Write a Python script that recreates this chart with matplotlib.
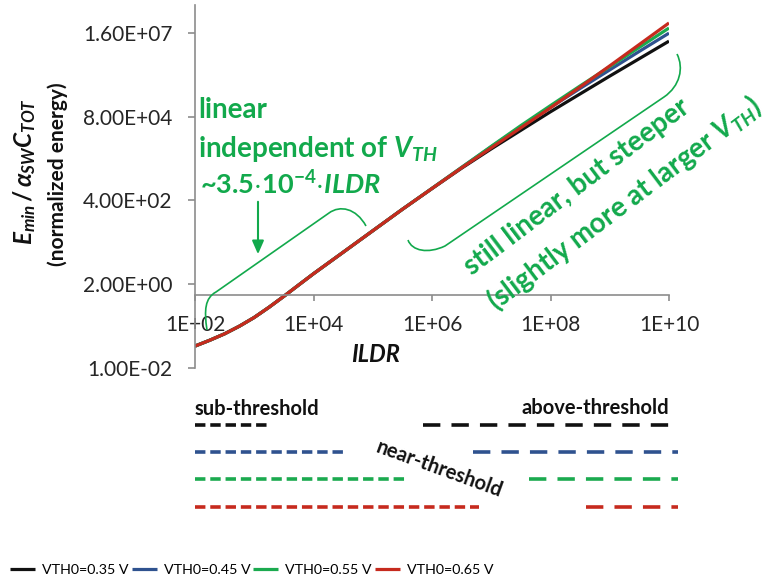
import matplotlib
matplotlib.use('Agg')
import matplotlib.pyplot as plt
from matplotlib.path import Path
from matplotlib.patches import PathPatch
import matplotlib.transforms as mtransforms
from matplotlib.ticker import FixedLocator, FixedFormatter, NullLocator

plt.rcParams['font.family'] = ['Lato', 'DejaVu Sans']
plt.rcParams['mathtext.fontset'] = 'custom'
plt.rcParams['mathtext.it'] = 'Lato:italic:bold'
plt.rcParams['mathtext.rm'] = 'Lato:bold'
plt.rcParams['mathtext.bf'] = 'Lato:bold'
plt.rcParams['mathtext.fallback'] = 'stixsans'
plt.rcParams['lines.scale_dashes'] = False

# ---------------- data ----------------
ildr = [1e2, 1.78e2, 3.16e2, 5.62e2, 1e3, 1.78e3, 3.16e3, 5.62e3, 1e4,
        3.16e4, 1e5, 3.16e5, 1e6, 3.16e6, 1e7, 3.16e7, 1e8, 3.16e8,
        1e9, 3.16e9, 1e10]
series_labels = ['VTH0=0.35 V', 'VTH0=0.45 V', 'VTH0=0.55 V', 'VTH0=0.65 V']
series_colors = ['#111111', '#2F528F', '#1BAA4F', '#C62A1E']
energy_035 = [0.040, 0.058, 0.087, 0.141, 0.245, 0.468, 0.933, 1.91, 3.89,
              15.1, 58.9, 229, 850,
              3.09e3, 1.047e4, 3.39e4, 1.096e5, 3.39e5, 1.047e6, 3.16e6, 9.55e6]
energy_045 = [0.040, 0.058, 0.087, 0.141, 0.245, 0.468, 0.933, 1.91, 3.89,
              15.1, 58.9, 229, 860,
              3.24e3, 1.20e4, 4.27e4, 1.445e5, 4.79e5, 1.55e6, 5.01e6, 1.585e7]
energy_055 = [0.040, 0.058, 0.087, 0.141, 0.245, 0.468, 0.933, 1.91, 3.89,
              15.1, 58.9, 229, 860,
              3.24e3, 1.23e4, 4.57e4, 1.62e5, 5.62e5, 1.905e6, 6.46e6, 2.19e7]
energy_065 = [0.040, 0.058, 0.087, 0.141, 0.245, 0.468, 0.933, 1.91, 3.89,
              15.1, 58.9, 229, 855,
              3.16e3, 1.12e4, 3.98e4, 1.41e5, 5.25e5, 2.0e6, 7.76e6, 3.02e7]
all_energy = [energy_035, energy_045, energy_055, energy_065]

y_ticks = [1e-2, 2.0, 4e2, 8e4, 1.6e7]
y_tick_labels = ['1.00E-02', '2.00E+00', '4.00E+02', '8.00E+04', '1.60E+07']
x_ticks = [1e2, 1e4, 1e6, 1e8, 1e10]
x_tick_labels = ['1E+02', '1E+04', '1E+06', '1E+08', '1E+10']

# regime extents (ILDR) per VTH0 for the schematic below the plot
sub_start = 1e2
sub_end = [1.9e3, 3.5e4, 4.0e5, 6.2e6]
above_start = [7.1e5, 4.9e6, 4.4e7, 4.0e8]
above_end = 1.4e10

# ---------------- figure ----------------
W, H = 777, 585
fig = plt.figure(figsize=(W / 100, H / 100), dpi=100)
ax = fig.add_axes([195 / W, 1 - 368 / H, (669 - 195) / W, (368 - 5) / H])
ax.set_xscale('log')
ax.set_yscale('log')
ax.set_xlim(1e2, 1e10)
ax.set_ylim(1e-2, 10 ** 7.973)

lines = []
for e, c, lab in zip(all_energy, series_colors, series_labels):
    ln, = ax.plot(ildr, e, color=c, lw=2.3, label=lab, solid_capstyle='butt')
    lines.append(ln)

spine_col = '#8C8C8C'
for s in ['top', 'right']:
    ax.spines[s].set_visible(False)
for s in ['left', 'bottom']:
    ax.spines[s].set_color(spine_col)
    ax.spines[s].set_linewidth(1.2)
ax.spines['bottom'].set_position(('data', 1.0))

ax.yaxis.set_major_locator(FixedLocator(y_ticks))
ax.yaxis.set_major_formatter(FixedFormatter(y_tick_labels))
ax.yaxis.set_minor_locator(NullLocator())
ax.xaxis.set_major_locator(FixedLocator(x_ticks))
ax.xaxis.set_major_formatter(FixedFormatter(x_tick_labels))
ax.xaxis.set_minor_locator(NullLocator())
ax.tick_params(axis='y', direction='out', length=5, width=1.2, color=spine_col,
               labelsize=15, labelcolor='#262626', pad=11)
ax.tick_params(axis='x', direction='out', length=4, width=1.2, color=spine_col,
               labelsize=15, labelcolor='#262626', pad=10)

# ---------------- overlay (pixel coordinates) ----------------
ov = fig.add_axes([0, 0, 1, 1], facecolor='none')
ov.set_xlim(0, W)
ov.set_ylim(H, 0)
ov.axis('off')

green = '#12A94C'

ov.text(376, 355, 'ILDR', fontsize=17, fontweight='bold', fontstyle='italic',
        ha='center', va='center', color='#111111')
ov.text(25, 171, r'$E_{min}\,/\,\alpha_{SW}C_{TOT}$', fontsize=17.5, rotation=90,
        ha='center', va='center', color='#111111')
ov.text(58, 174, '(normalized energy)', fontsize=15, fontweight='bold', rotation=90,
        ha='center', va='center', color='#111111')

gfs = 20
ov.text(198, 118, 'linear', fontsize=gfs, fontweight='bold', color=green,
        ha='left', va='baseline')
ov.text(198, 157, r'independent of $V_{TH}$', fontsize=gfs, fontweight='bold',
        color=green, ha='left', va='baseline')
ov.text(200, 194, r'~3.5$\cdot$10$^{-4}$$\cdot$$ILDR$', fontsize=gfs - 0.5,
        fontweight='bold', color=green, ha='left', va='baseline')

ov.annotate('', xy=(258, 257), xytext=(258, 199),
            arrowprops=dict(arrowstyle='-|>,head_width=0.35,head_length=0.8',
                            color=green, lw=1.5))

br1 = Path([(207, 330), (204, 310), (205, 298), (216, 292), (329, 213),
            (340, 205), (356, 208), (366, 226)],
           [Path.MOVETO, Path.CURVE4, Path.CURVE4, Path.CURVE4, Path.LINETO,
            Path.CURVE4, Path.CURVE4, Path.CURVE4])
ov.add_patch(PathPatch(br1, fill=False, edgecolor=green, lw=1.2))
br2 = Path([(408, 240), (412, 251), (428, 254), (445, 246), (664, 97),
            (680, 86), (684, 68), (677, 54)],
           [Path.MOVETO, Path.CURVE4, Path.CURVE4, Path.CURVE4, Path.LINETO,
            Path.CURVE4, Path.CURVE4, Path.CURVE4])
ov.add_patch(PathPatch(br2, fill=False, edgecolor=green, lw=1.2))

ov.text(577, 187, 'still linear, but steeper', fontsize=gfs, fontweight='bold',
        color=green, rotation=37, ha='center', va='center', rotation_mode='anchor')
ov.text(624, 203, r'(slightly more at larger $V_{TH}$)', fontsize=gfs,
        fontweight='bold', color=green, rotation=37, ha='center', va='center',
        rotation_mode='anchor')

# regime schematic
bt = mtransforms.blended_transform_factory(ax.transData, ov.transData)
row_y = [425, 452, 479, 507]
for i, c in enumerate(series_colors):
    ov.plot([sub_start, sub_end[i]], [row_y[i], row_y[i]], transform=bt,
            color=c, lw=2.6, dashes=(7.5, 3.5), clip_on=False,
            dash_capstyle='butt')
    ov.plot([above_start[i], above_end], [row_y[i], row_y[i]], transform=bt,
            color=c, lw=2.6, dashes=(12.5, 8.0), clip_on=False,
            dash_capstyle='butt')

ov.text(195, 409, 'sub-threshold', fontsize=14.5, fontweight='bold',
        color='#111111', ha='left', va='center')
ov.text(669, 408, 'above-threshold', fontsize=14.5, fontweight='bold',
        color='#111111', ha='right', va='center')
ov.text(439, 469, 'near-threshold', fontsize=14.5, fontweight='bold',
        color='#111111', ha='center', va='center', rotation=-20,
        rotation_mode='anchor')

fig.legend(lines, series_labels, loc='center left', ncol=4, frameon=False,
           bbox_to_anchor=(10 / W, 1 - 570 / H), borderaxespad=0, borderpad=0,
           prop={'family': ['Lato', 'DejaVu Sans'], 'size': 10.3},
           handlelength=1.75, handletextpad=0.5, columnspacing=0.2)

fig.savefig('out.png', dpi=100)
